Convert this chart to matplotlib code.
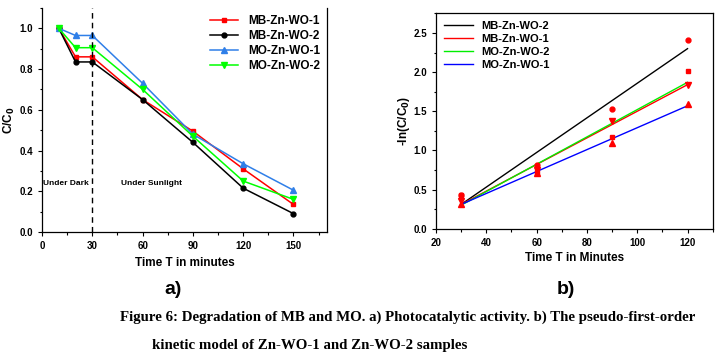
import matplotlib
matplotlib.use("Agg")
import matplotlib.pyplot as plt
from matplotlib.ticker import MultipleLocator

# a) photocatalytic activity, C/C0 vs time
time_a = [10, 20, 30, 60, 90, 120, 150]
mb1_a = [1.0, 0.86, 0.86, 0.65, 0.495, 0.31, 0.135]
mb2_a = [1.0, 0.835, 0.835, 0.65, 0.44, 0.215, 0.09]
mo1_a = [1.0, 0.965, 0.965, 0.73, 0.48, 0.335, 0.205]
mo2_a = [1.0, 0.905, 0.905, 0.70, 0.47, 0.25, 0.16]

# b) pseudo-first-order kinetics, -ln(C/C0) vs time
time_b = [30, 60, 90, 120]
mb2_b = [0.43, 0.82, 1.53, 2.41]
mb1_b = [0.43, 0.72, 1.17, 2.02]
mo2_b = [0.36, 0.75, 1.37, 1.83]
mo1_b = [0.32, 0.71, 1.10, 1.59]

# fitted lines (end points)
fit_x = [30, 120]
fit_mb2 = [0.31, 2.30]
fit_mb1 = [0.31, 1.84]
fit_mo2 = [0.30, 1.87]
fit_mo1 = [0.31, 1.57]

plt.rcParams['font.family'] = ['Liberation Sans', 'DejaVu Sans']

fig = plt.figure(figsize=(7.27, 3.63), dpi=100)

# ---- panel a ----
ax1 = fig.add_axes([0.0578, 0.361, 0.392, 0.617])
ax1.plot(time_a, mb1_a, color='#ff0000', marker='s', ms=3.5, lw=1.1, label='MB-Zn-WO-1')
ax1.plot(time_a, mb2_a, color='black', marker='o', ms=3.5, lw=1.1, label='MB-Zn-WO-2')
ax1.plot(time_a, mo1_a, color='#2f7fe8', marker='^', ms=3.8, lw=1.1, label='MO-Zn-WO-1')
ax1.plot(time_a, mo2_a, color='#00ff00', marker='v', ms=3.8, lw=1.1, label='MO-Zn-WO-2')
ax1.axvline(30, color='black', ls=(0, (4, 3)), lw=1.0)
ax1.set_xlim(0, 170)
ax1.set_ylim(0, 1.1)
ax1.set_xticks([0, 30, 60, 90, 120, 150])
ax1.set_yticks([0.0, 0.2, 0.4, 0.6, 0.8, 1.0])
ax1.xaxis.set_minor_locator(MultipleLocator(15))
ax1.yaxis.set_minor_locator(MultipleLocator(0.1))
ax1.spines['top'].set_visible(False)
ax1.text(0.5, 0.23, 'Under Dark', fontsize=6, fontweight='bold')
ax1.text(65.5, 0.23, 'Under Sunlight', fontsize=6, fontweight='bold', ha='center')
ax1.set_xlabel('Time T in minutes', fontsize=8.5, fontweight='bold', labelpad=4)
ax1.set_ylabel('C/C$_\\mathbf{0}$', fontsize=8.5, fontweight='bold', labelpad=2)
ax1.legend(loc='upper right', frameon=False, handlelength=2.4,
           borderaxespad=0.2, labelspacing=0.25, prop={'weight': 'bold', 'size': 8.5})

# ---- panel b ----
ax2 = fig.add_axes([0.5997, 0.370, 0.3806, 0.593])
ax2.plot(fit_x, fit_mb2, color='black', lw=1.0, label='MB-Zn-WO-2')
ax2.plot(fit_x, fit_mb1, color='#ff0000', lw=1.0, label='MB-Zn-WO-1')
ax2.plot(fit_x, fit_mo2, color='#00ee00', lw=1.0, label='MO-Zn-WO-2')
ax2.plot(fit_x, fit_mo1, color='#0000ff', lw=1.0, label='MO-Zn-WO-1')
ax2.plot(time_b, mb2_b, 'o', color='#ff0000', ms=3.5)
ax2.plot(time_b, mb1_b, 's', color='#ff0000', ms=3.5)
ax2.plot(time_b, mo2_b, 'v', color='#ff0000', ms=3.8)
ax2.plot(time_b, mo1_b, '^', color='#ff0000', ms=3.8)
ax2.set_xlim(20, 130)
ax2.set_ylim(0, 2.75)
ax2.set_xticks([20, 40, 60, 80, 100, 120])
ax2.set_yticks([0.0, 0.5, 1.0, 1.5, 2.0, 2.5])
ax2.xaxis.set_minor_locator(MultipleLocator(10))
ax2.yaxis.set_minor_locator(MultipleLocator(0.25))
ax2.set_xlabel('Time T in Minutes', fontsize=8.5, fontweight='bold', labelpad=3)
ax2.set_ylabel('-ln(C/C$_\\mathbf{0}$)', fontsize=8.5, fontweight='bold', labelpad=1)
ax2.legend(loc='upper left', frameon=False, handlelength=2.6,
           borderaxespad=0.3, labelspacing=0.25, prop={'weight': 'bold', 'size': 8})

for ax in (ax1, ax2):
    ax.tick_params(which='both', direction='out', labelsize=7, width=0.8)
    ax.tick_params(which='major', length=3)
    ax.tick_params(which='minor', length=1.8)
    for lab in ax.get_xticklabels() + ax.get_yticklabels():
        lab.set_fontweight('bold')
    for sp in ax.spines.values():
        sp.set_linewidth(0.9)

# panel letters and caption
fig.text(173 / 727, 1 - 290 / 363, 'a)', fontsize=14, fontweight='bold', ha='center', va='center')
fig.text(566 / 727, 1 - 289 / 363, 'b)', fontsize=14, fontweight='bold', ha='center', va='center')
fig.text(408 / 727, 1 - 317 / 363,
         'Figure 6: Degradation of MB and MO. a) Photocatalytic activity. b) The pseudo-first-order',
         fontsize=10.7, fontweight='bold', family='Liberation Serif', ha='center', va='center')
fig.text(152 / 727, 1 - 345 / 363, 'kinetic model of Zn-WO-1 and Zn-WO-2 samples',
         fontsize=10.7, fontweight='bold', family='Liberation Serif', ha='left', va='center')

fig.savefig('out.png', dpi=100)
